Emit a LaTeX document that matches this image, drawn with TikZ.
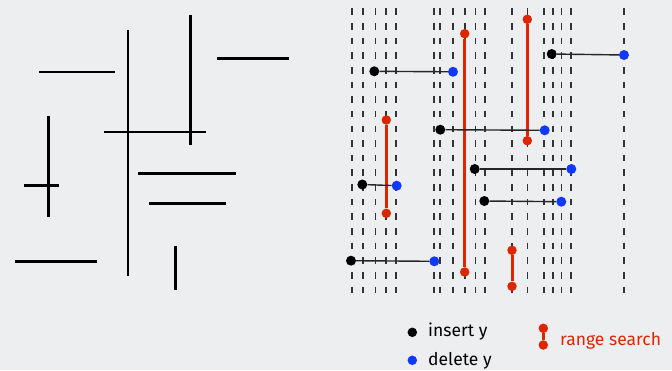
\documentclass[tikz,border=0pt]{standalone}
\usepackage{fontspec}
\setmainfont{Fira Sans}
\definecolor{bg}{RGB}{237,238,240}
\definecolor{rsred}{RGB}{221,38,0}
\definecolor{delblue}{RGB}{16,56,255}
\tikzset{
  seg/.style={line width=2.6pt, black},
  sweep/.style={line width=1.6pt, black!80, dash pattern=on 6.6pt off 8.05pt},
  ins/.style={circle, fill=black, inner sep=0pt, minimum size=10pt},
  del/.style={circle, fill=delblue, inner sep=0pt, minimum size=10pt},
  rdot/.style={circle, fill=rsred, inner sep=0pt, minimum size=9.5pt},
  hseg/.style={line width=1.4pt, black!85},
  rseg/.style={line width=3pt, rsred},
  lbl/.style={font=\fontsize{17.5}{17.5}\selectfont, inner sep=0pt, anchor=base west}
}
\begin{document}
\begin{tikzpicture}[x=1pt,y=-1pt]
\fill[bg] (0,0) rectangle (672,370);
\useasboundingbox (0,0) rectangle (672,370);
% left panel segments
\draw[seg] (39,72) -- (115,72);
\draw[seg] (128,30) -- (128,276);
\draw[seg] (190.5,15) -- (190.5,144.5);
\draw[seg] (217,58.3) -- (289,58.3);
\draw[seg] (104,132) -- (206,132);
\draw[seg] (48.6,116) -- (48.6,217);
\draw[seg] (24.3,185.3) -- (59.3,185.3);
\draw[seg] (138.3,173.4) -- (236.3,173.4);
\draw[seg] (149,203.4) -- (225.7,203.4);
\draw[seg] (15.3,261.4) -- (97.3,261.4);
\draw[seg] (175.4,246.3) -- (175.4,290.3);
% sweep lines
\foreach \x in {351.7,362.7,375.3,386,396,434,440,453,465,475.3,485,512,527.3,543.7,552.7,561.3,570.7,624}
  \draw[sweep] (\x,8.3) -- (\x,294);
% red range searches
\node[rdot] (r1a) at (386.3,120) {};
\node[rdot] (r1b) at (386.3,213.3) {};
\node[rdot] (r2a) at (464.7,33.7) {};
\node[rdot] (r2b) at (464.7,272) {};
\node[rdot] (r3a) at (527.3,19.3) {};
\node[rdot] (r3b) at (527.3,140.7) {};
\node[rdot] (r4a) at (512,250.3) {};
\node[rdot] (r4b) at (512,286.3) {};
\draw[rseg] (r1a) -- (r1b);
\draw[rseg] (r2a) -- (r2b);
\draw[rseg] (r3a) -- (r3b);
\draw[rseg] (r4a) -- (r4b);
% horizontal segments
\node[ins] (h1a) at (374.3,71.3) {};
\node[del] (h1b) at (453,71.8) {};
\node[ins] (h2a) at (551.7,54) {};
\node[del] (h2b) at (624,55) {};
\node[ins] (h3a) at (440.3,129.7) {};
\node[del] (h3b) at (544.7,130.3) {};
\node[ins] (h4a) at (474.7,169) {};
\node[del] (h4b) at (571.3,169) {};
\node[ins] (h5a) at (362.3,184.5) {};
\node[del] (h5b) at (396.7,185.7) {};
\node[ins] (h6a) at (484.3,201) {};
\node[del] (h6b) at (561.3,201.7) {};
\node[ins] (h7a) at (351,260.7) {};
\node[del] (h7b) at (434.3,261.3) {};
\draw[hseg] (h1a) -- (h1b);
\draw[hseg] (h2a) -- (h2b);
\draw[hseg] (h3a) -- (h3b);
\draw[hseg] (h4a) -- (h4b);
\draw[hseg] (h5a) -- (h5b);
\draw[hseg] (h6a) -- (h6b);
\draw[hseg] (h7a) -- (h7b);
% legend
\node[ins, minimum size=9.5pt] (lins) at (412.3,332.3) {};
\node[del, minimum size=9.5pt] (ldel) at (412.3,360.3) {};
\node[lbl] (tins) at (428,336.5) {insert y};
\node[lbl] (tdel) at (428,365.5) {delete y};
\node[rdot] (lra) at (543.3,328.3) {};
\node[rdot] (lrb) at (543.3,345) {};
\draw[rseg] (lra) -- (lrb);
\node[lbl, text=rsred] (trs) at (560,345) {range search};
\end{tikzpicture}
\end{document}
